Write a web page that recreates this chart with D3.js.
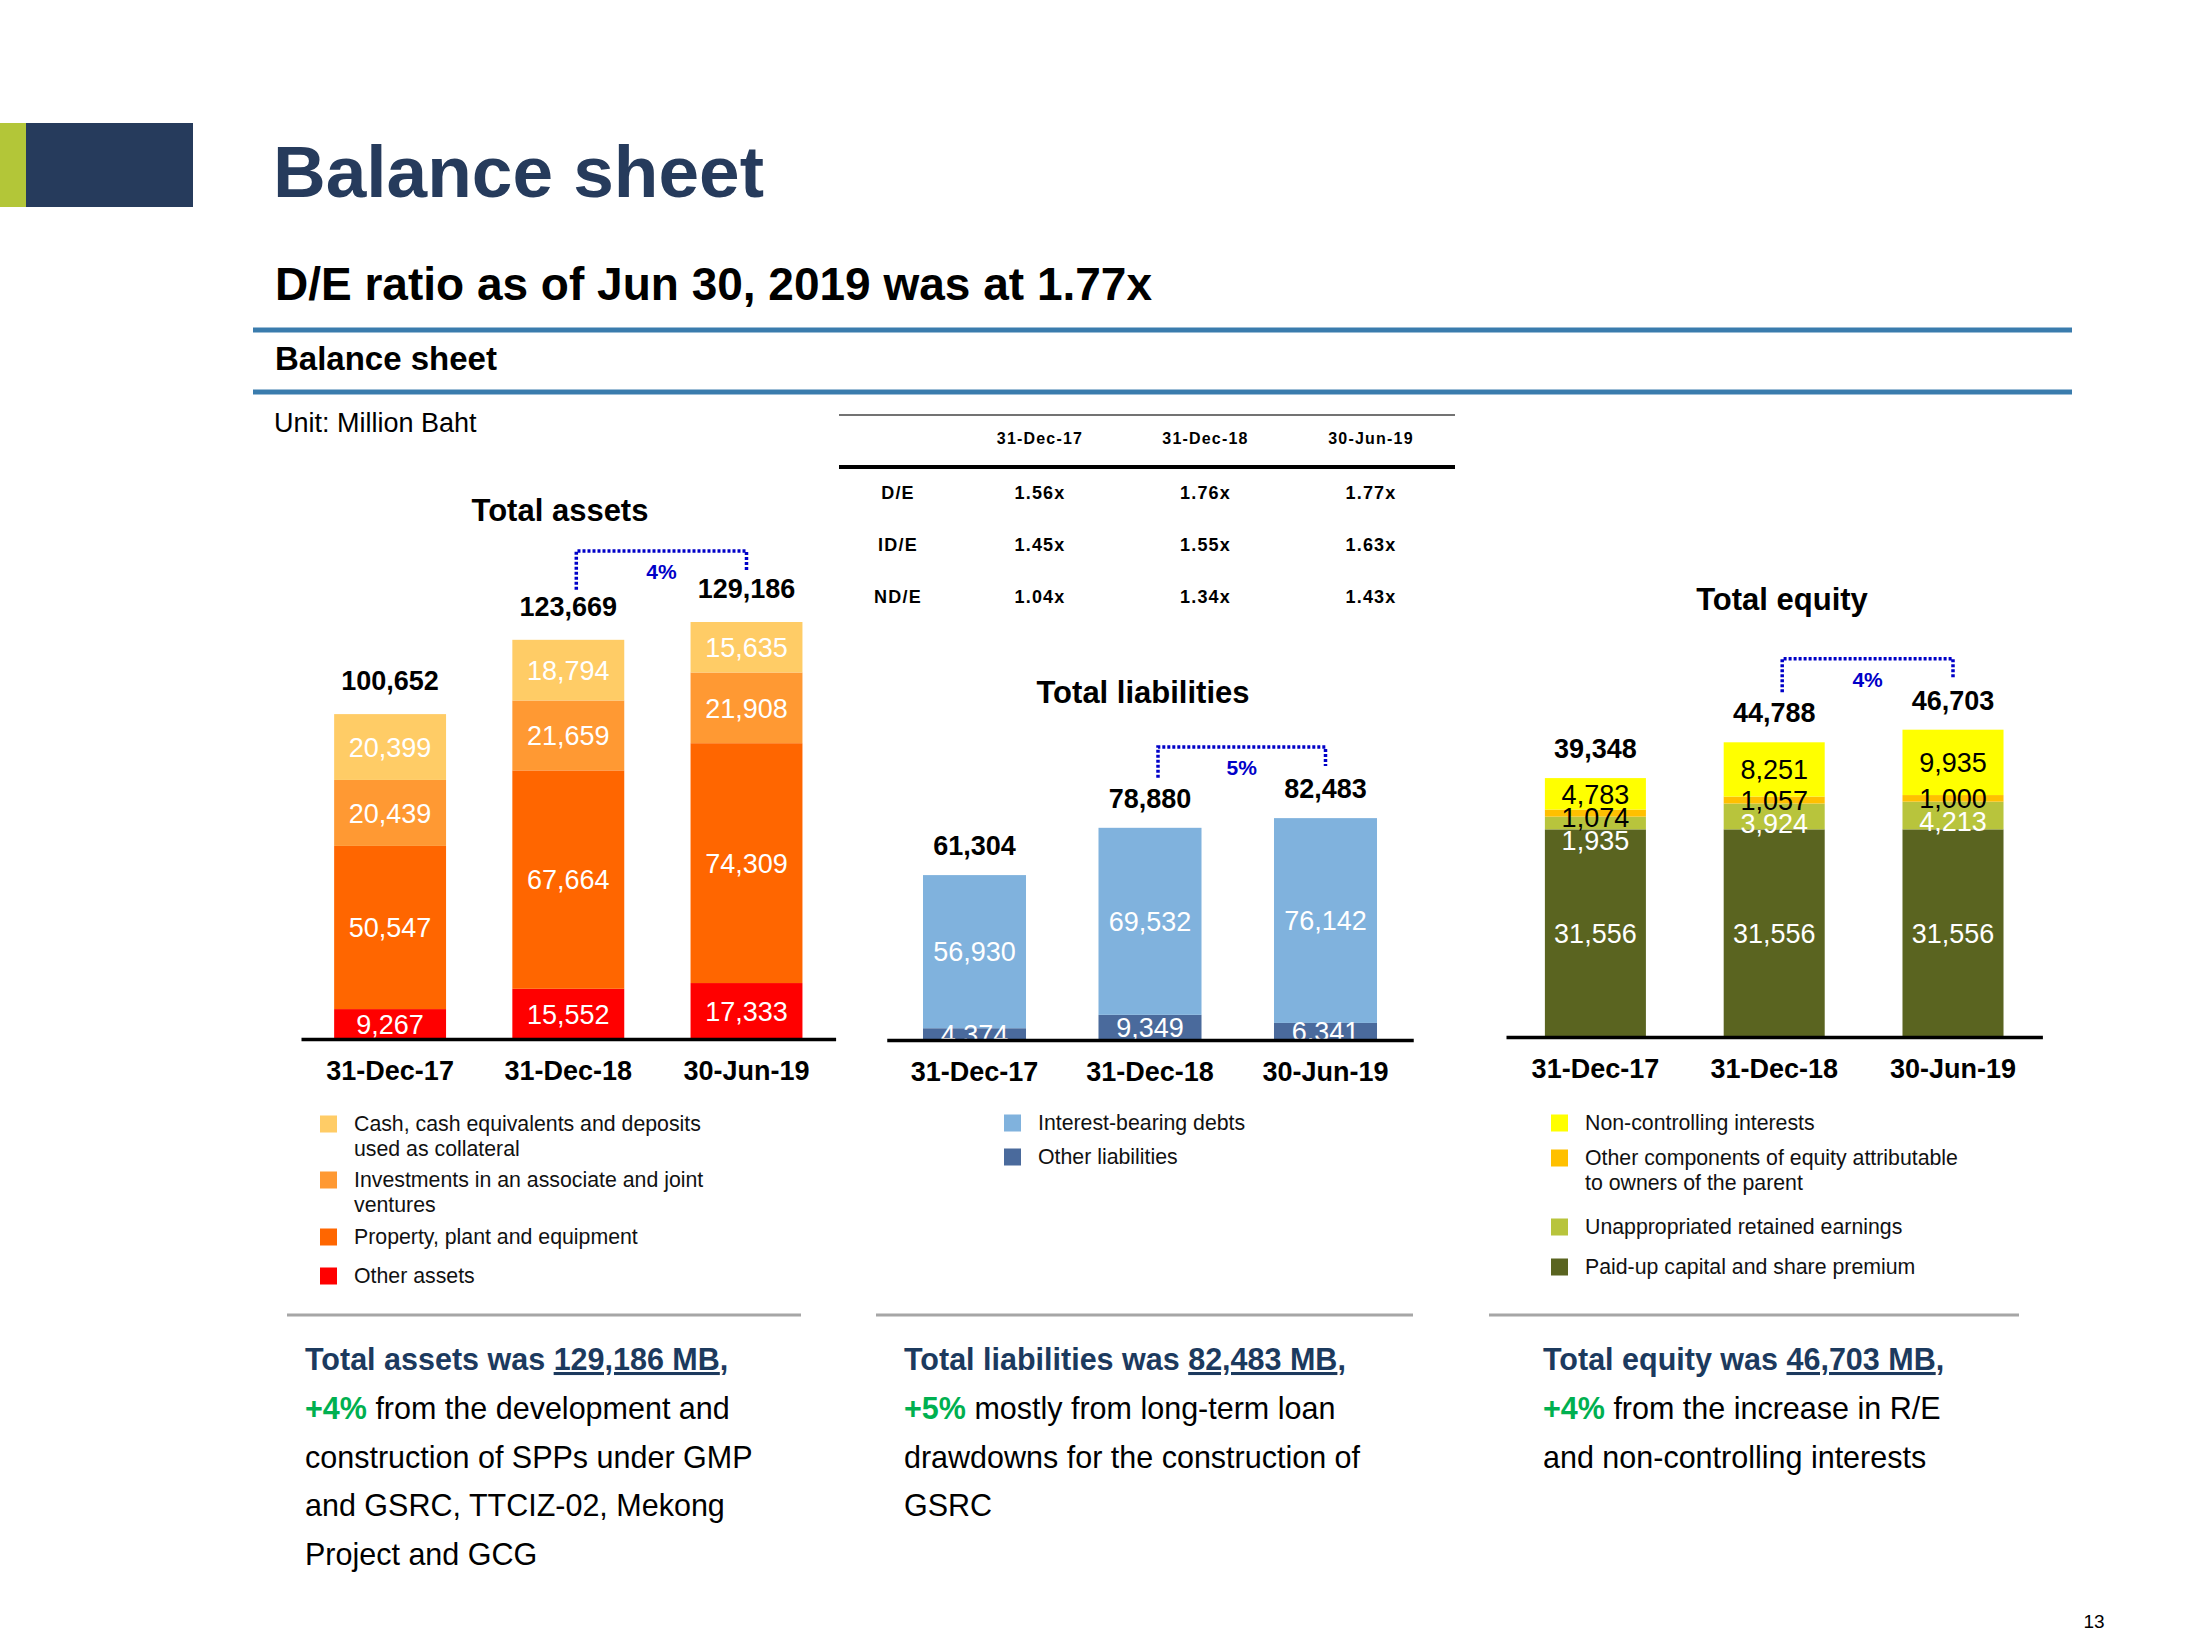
<!DOCTYPE html>
<html lang="en">
<head>
<meta charset="UTF-8" />
<script src="https://d3js.org/d3.v7.min.js"></script>
<style>
  body { margin: 0; background: #fff; }
  svg { display: block; font-family: "Liberation Sans", Arial, sans-serif; }
</style>
</head>
<body>
<svg id="slide" width="2200" height="1650"></svg>
<script>
// ---------- data (Million Baht) ----------
var periods = ["31-Dec-17", "31-Dec-18", "30-Jun-19"];

// total assets, stacked bottom -> top
var otherAssets  = [9267, 15552, 17333];
var ppeAssets    = [50547, 67664, 74309];
var investAssets = [20439, 21659, 21908];
var cashAssets   = [20399, 18794, 15635];
var totalAssets  = [100652, 123669, 129186];

// total liabilities
var otherLiab = [4374, 9349, 6341];
var debtLiab  = [56930, 69532, 76142];
var totalLiab = [61304, 78880, 82483];

// total equity
var paidUp      = [31556, 31556, 31556];
var retained    = [1935, 3924, 4213];
var otherEquity = [1074, 1057, 1000];
var nonControl  = [4783, 8251, 9935];
var totalEquity = [39348, 44788, 46703];

// ratio table
var ratioNames = ["D/E", "ID/E", "ND/E"];
var deValues   = ["1.56x", "1.76x", "1.77x"];
var ideValues  = ["1.45x", "1.55x", "1.63x"];
var ndeValues  = ["1.04x", "1.34x", "1.43x"];

// growth vs previous year end
var growthLabels = ["4%", "5%", "4%"];

var svg = d3.select("#slide");
var fmt = d3.format(",");

//////////////////////
// header
//////////////////////
svg.append("rect").attr("x", 0).attr("y", 123).attr("width", 26).attr("height", 84).attr("fill", "#b3c638");
svg.append("rect").attr("x", 26).attr("y", 123).attr("width", 167).attr("height", 84).attr("fill", "#263b5c");

svg.append("text").attr("x", 273).attr("y", 197)
  .style("font-size", "73px").style("font-weight", "bold").attr("fill", "#263b5c")
  .text("Balance sheet");
svg.append("text").attr("x", 275).attr("y", 300)
  .style("font-size", "46px").style("font-weight", "bold").attr("fill", "#000")
  .text("D/E ratio as of Jun 30, 2019 was at 1.77x");

[330, 392].forEach(function(yy) {
  svg.append("line").attr("x1", 253).attr("x2", 2072).attr("y1", yy).attr("y2", yy)
    .attr("stroke", "#3a7cad").attr("stroke-width", 5);
});
svg.append("text").attr("x", 275).attr("y", 370)
  .style("font-size", "33px").style("font-weight", "bold").text("Balance sheet");
svg.append("text").attr("x", 274).attr("y", 432)
  .style("font-size", "27px").text("Unit: Million Baht");

//////////////////////
// ratio table
//////////////////////
var colX = d3.scalePoint().domain(periods).range([1040, 1371]);
var rowY = d3.scalePoint().domain(ratioNames).range([499, 603]);
var ratioTable = [deValues, ideValues, ndeValues];

svg.append("line").attr("x1", 839).attr("x2", 1455).attr("y1", 415).attr("y2", 415)
  .attr("stroke", "#444").attr("stroke-width", 1.5);
svg.append("line").attr("x1", 839).attr("x2", 1455).attr("y1", 467).attr("y2", 467)
  .attr("stroke", "#000").attr("stroke-width", 4);

svg.selectAll("text.thead").data(periods).enter().append("text")
  .attr("class", "thead")
  .attr("x", function(d) { return colX(d); }).attr("y", 444)
  .attr("text-anchor", "middle").style("font-size", "16px").style("font-weight", "bold")
  .style("letter-spacing", "1.2px").text(function(d) { return d; });

ratioNames.forEach(function(name, r) {
  svg.append("text").attr("x", 898).attr("y", rowY(name))
    .attr("text-anchor", "middle").style("font-size", "18px").style("font-weight", "bold")
    .style("letter-spacing", "1.2px").text(name);
  svg.selectAll("text.tv" + r).data(ratioTable[r]).enter().append("text")
    .attr("class", "tv" + r)
    .attr("x", function(d, i) { return colX(periods[i]); }).attr("y", rowY(name))
    .attr("text-anchor", "middle").style("font-size", "18px").style("font-weight", "bold")
    .style("letter-spacing", "1.2px").text(function(d) { return d; });
});

//////////////////////
// stacked bar charts
//////////////////////
function drawChart(c) {
  var g = svg.append("g");
  var keys = c.series.map(function(s) { return s.key; });
  var rows = periods.map(function(p, i) {
    var r = { period: p };
    c.series.forEach(function(s) { r[s.key] = s.values[i]; });
    return r;
  });
  var layers = d3.stack().keys(keys)(rows);

  var x = d3.scaleBand().domain(periods).range(c.xRange)
    .paddingInner(c.pad).paddingOuter(c.pad / 2);
  var y = d3.scaleLinear().domain([0, c.yMax]).range([c.baseY, c.topY]);
  var bw = x.bandwidth();

  // title
  g.append("text").attr("x", c.titleX).attr("y", c.titleY)
    .attr("text-anchor", "middle").style("font-size", "31px").style("font-weight", "bold")
    .text(c.title);

  // bars
  var layer = g.selectAll("g.layer").data(layers).enter().append("g")
    .attr("fill", function(d, i) { return c.series[i].color; });
  layer.selectAll("rect").data(function(d) { return d; }).enter().append("rect")
    .attr("x", function(d) { return x(d.data.period); })
    .attr("y", function(d) { return y(d[1]); })
    .attr("width", bw)
    .attr("height", function(d) { return y(d[0]) - y(d[1]); });

  // segment labels: centred in segment, thin segments pushed down so labels don't pile up
  periods.forEach(function(p, pi) {
    var prev = -Infinity;
    for (var li = layers.length - 1; li >= 0; li--) {
      var d = layers[li][pi];
      var cy = Math.max((y(d[0]) + y(d[1])) / 2, prev + 23);
      prev = cy;
      g.append("text")
        .attr("x", x(p) + bw / 2).attr("y", cy).attr("dy", "0.36em")
        .attr("text-anchor", "middle").style("font-size", "27px")
        .attr("fill", c.series[li].text)
        .text(fmt(d[1] - d[0]));
    }
  });

  // totals
  g.selectAll("text.total").data(c.totals).enter().append("text")
    .attr("class", "total")
    .attr("x", function(d, i) { return x(periods[i]) + bw / 2; })
    .attr("y", function(d) { return y(d) - c.labelGap; })
    .attr("text-anchor", "middle").style("font-size", "27px").style("font-weight", "bold")
    .text(function(d) { return fmt(d); });

  // axis line + category labels
  var axis = g.append("g").attr("transform", "translate(0," + c.baseY + ")")
    .call(d3.axisBottom(x).tickSize(0).tickSizeOuter(0).tickPadding(22));
  axis.select(".domain").attr("stroke", "#000").attr("stroke-width", 3.5);
  axis.selectAll("text").style("font-size", "27px").style("font-weight", "bold")
    .style("font-family", "'Liberation Sans', Arial, sans-serif").attr("fill", "#000");

  // growth bracket
  var xl = x(periods[1]) + bw / 2 + 8;
  var xr = x(periods[2]) + bw / 2;
  var yTop = y(c.totals[2]) - 71;
  g.append("path")
    .attr("d", "M" + xl + "," + (y(c.totals[1]) - 50) + "V" + yTop + "H" + xr + "V" + (y(c.totals[2]) - 52))
    .attr("fill", "none").attr("stroke", "#0000c8").attr("stroke-width", 3.5)
    .attr("stroke-dasharray", "3,2");
  g.append("text").attr("x", (xl + xr) / 2).attr("y", yTop + 28)
    .attr("text-anchor", "middle").style("font-size", "21px").style("font-weight", "bold")
    .attr("fill", "#0000c8").text(c.growth);

  // legend (top of stack first)
  var legendItems = c.series.slice().reverse();
  legendItems.forEach(function(s, i) {
    var ly = c.legendY[i];
    g.append("rect").attr("x", c.legendX).attr("y", ly - 8.5).attr("width", 17).attr("height", 17)
      .attr("fill", s.color);
    var t = g.append("text").attr("x", c.legendX + 34).attr("y", ly + 7)
      .style("font-size", "21.3px").attr("fill", "#111");
    s.legend.forEach(function(line, j) {
      t.append("tspan").attr("x", c.legendX + 34).attr("dy", j === 0 ? 0 : 25).text(line);
    });
  });

  // separator + commentary
  g.append("line").attr("x1", c.sepX[0]).attr("x2", c.sepX[1]).attr("y1", 1315).attr("y2", 1315)
    .attr("stroke", "#a6a6a6").attr("stroke-width", 3);
  c.notes.forEach(function(line, i) {
    var t = g.append("text").attr("x", c.noteX).attr("y", 1370 + i * 48.8).style("font-size", "30.5px");
    line.forEach(function(run) {
      var ts = t.append("tspan").text(run[0]);
      if (run[1] === "head" || run[1] === "headU") ts.style("font-weight", "bold").attr("fill", "#1c3a5e");
      if (run[1] === "headU") ts.style("text-decoration", "underline");
      if (run[1] === "green") ts.style("font-weight", "bold").attr("fill", "#00b050");
      if (run[1] === "plain") ts.attr("fill", "#000");
    });
  });
}

drawChart({
  title: "Total assets", titleX: 560, titleY: 521,
  xRange: [301, 835.6], pad: 0.372, baseY: 1039, yMax: 140000, topY: 1039 - 451.9,
  labelGap: 24, totals: totalAssets, growth: growthLabels[0],
  series: [
    { key: "other", values: otherAssets,  color: "#ff0000", text: "#fff", legend: ["Other assets"] },
    { key: "ppe",   values: ppeAssets,    color: "#ff6600", text: "#fff", legend: ["Property, plant and equipment"] },
    { key: "inv",   values: investAssets, color: "#ff9933", text: "#fff", legend: ["Investments in an associate and joint", "ventures"] },
    { key: "cash",  values: cashAssets,   color: "#ffcc66", text: "#fff", legend: ["Cash, cash equivalents and deposits", "used as collateral"] }
  ],
  legendX: 320, legendY: [1124, 1180, 1237, 1276],
  sepX: [287, 801], noteX: 305,
  notes: [
    [["Total assets was ", "head"], [fmt(totalAssets[2]) + " MB", "headU"], [",", "head"]],
    [["+" + growthLabels[0], "green"], [" from the development and", "plain"]],
    [["construction of SPPs under GMP", "plain"]],
    [["and GSRC, TTCIZ-02, Mekong", "plain"]],
    [["Project and GCG", "plain"]]
  ]
});

drawChart({
  title: "Total liabilities", titleX: 1143, titleY: 703,
  xRange: [886.75, 1413.25], pad: 0.413, baseY: 1040, yMax: 100000, topY: 1040 - 269,
  labelGap: 20, totals: totalLiab, growth: growthLabels[1],
  series: [
    { key: "other", values: otherLiab, color: "#4a6a9c", text: "#fff", legend: ["Other liabilities"] },
    { key: "debt",  values: debtLiab,  color: "#80b2dd", text: "#fff", legend: ["Interest-bearing debts"] }
  ],
  legendX: 1004, legendY: [1123, 1157],
  sepX: [876, 1413], noteX: 904,
  notes: [
    [["Total liabilities was ", "head"], [fmt(totalLiab[2]) + " MB", "headU"], [",", "head"]],
    [["+" + growthLabels[1], "green"], [" mostly from long-term loan", "plain"]],
    [["drawdowns for the construction of", "plain"]],
    [["GSRC", "plain"]]
  ]
});

drawChart({
  title: "Total equity", titleX: 1782, titleY: 610,
  xRange: [1506, 2042.4], pad: 0.435, baseY: 1037, yMax: 50000, topY: 1037 - 329,
  labelGap: 20, totals: totalEquity, growth: growthLabels[2],
  series: [
    { key: "paid",  values: paidUp,      color: "#5a6420", text: "#fff", legend: ["Paid-up capital and share premium"] },
    { key: "re",    values: retained,    color: "#b8c43c", text: "#fff", legend: ["Unappropriated retained earnings"] },
    { key: "oth",   values: otherEquity, color: "#ffc000", text: "#000", legend: ["Other components of equity attributable", "to owners of the parent"] },
    { key: "nci",   values: nonControl,  color: "#ffff00", text: "#000", legend: ["Non-controlling interests"] }
  ],
  legendX: 1551, legendY: [1123, 1158, 1227, 1267],
  sepX: [1489, 2019], noteX: 1543,
  notes: [
    [["Total equity was ", "head"], [fmt(totalEquity[2]) + " MB", "headU"], [",", "head"]],
    [["+" + growthLabels[2], "green"], [" from the increase in R/E", "plain"]],
    [["and non-controlling interests", "plain"]]
  ]
});

// page number
svg.append("text").attr("x", 2094).attr("y", 1628).attr("text-anchor", "middle")
  .style("font-size", "19px").text("13");
</script>
</body>
</html>
